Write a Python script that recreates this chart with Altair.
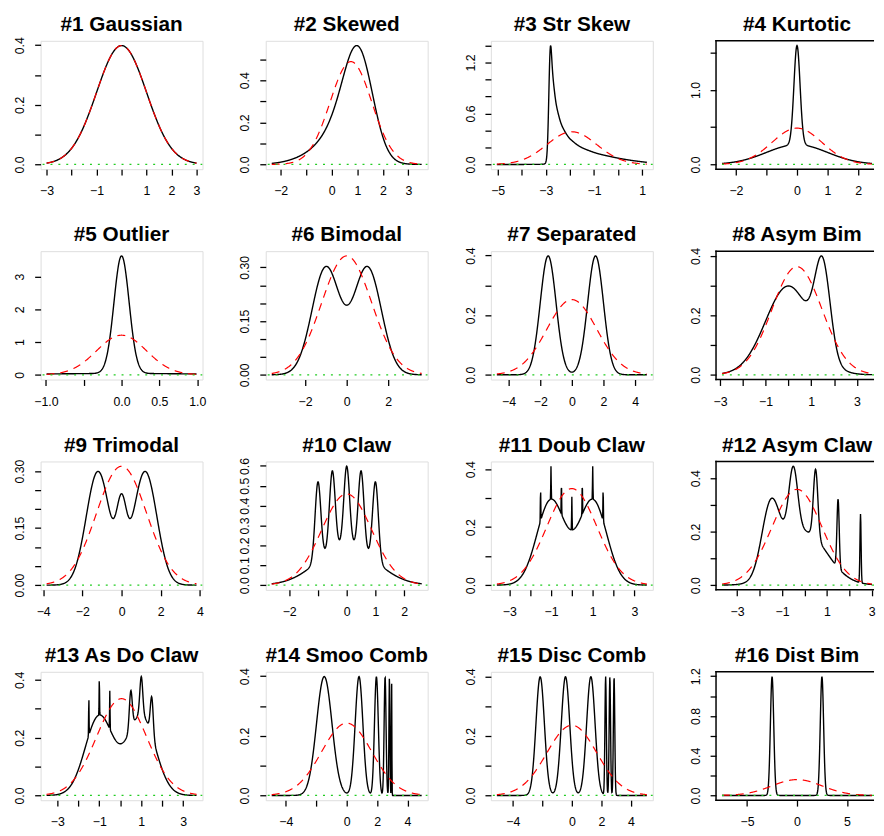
import altair as alt
import numpy as np
import pandas as pd

# ---- Marron-Wand normal mixtures: name, weights, means, sds ----
names = ["#1 Gaussian", "#2 Skewed", "#3 Str Skew", "#4 Kurtotic",
         "#5 Outlier", "#6 Bimodal", "#7 Separated", "#8 Asym Bim",
         "#9 Trimodal", "#10 Claw", "#11 Doub Claw", "#12 Asym Claw",
         "#13 As Do Claw", "#14 Smoo Comb", "#15 Disc Comb", "#16 Dist Bim"]

weights = [
    [1.0],
    [0.2, 0.2, 0.6],
    [0.125] * 8,
    [2 / 3, 1 / 3],
    [0.1, 0.9],
    [0.5, 0.5],
    [0.5, 0.5],
    [0.75, 0.25],
    [0.45, 0.45, 0.1],
    [0.5, 0.1, 0.1, 0.1, 0.1, 0.1],
    [0.49, 0.49] + [1 / 350] * 7,
    [0.5, 8 / 31, 4 / 31, 2 / 31, 1 / 31, 0.5 / 31],
    [0.46, 0.46, 1 / 300, 1 / 300, 1 / 300, 7 / 300, 7 / 300, 7 / 300],
    [32 / 63, 16 / 63, 8 / 63, 4 / 63, 2 / 63, 1 / 63],
    [2 / 7, 2 / 7, 2 / 7, 1 / 21, 1 / 21, 1 / 21],
    [0.5, 0.5],
]
means = [
    [0.0],
    [0.0, 0.5, 13 / 12],
    [0.0, -1.0, -1.6667, -2.1111, -2.4074, -2.6049, -2.7366, -2.8244],
    [0.0, 0.0],
    [0.0, 0.0],
    [-1.0, 1.0],
    [-1.5, 1.5],
    [0.0, 1.5],
    [-1.2, 1.2, 0.0],
    [0.0, -1.0, -0.5, 0.0, 0.5, 1.0],
    [-1.0, 1.0, -1.5, -1.0, -0.5, 0.0, 0.5, 1.0, 1.5],
    [0.0, -1.5, -0.5, 0.5, 1.5, 2.5],
    [-1.0, 1.0, -0.5, -1.0, -1.5, 0.5, 1.0, 1.5],
    [-1.4762, 0.8095, 1.9524, 2.5238, 2.8095, 2.9524],
    [-2.1429, -0.4286, 1.2857, 2.2857, 2.5714, 2.8571],
    [-2.5, 2.5],
]
sds = [
    [1.0],
    [1.0, 2 / 3, 5 / 9],
    [1.0, 0.6667, 0.4444, 0.2963, 0.1975, 0.1317, 0.0878, 0.0585],
    [1.0, 0.1],
    [1.0, 0.1],
    [2 / 3, 2 / 3],
    [0.5, 0.5],
    [1.0, 1 / 3],
    [0.6, 0.6, 0.25],
    [1.0, 0.1, 0.1, 0.1, 0.1, 0.1],
    [2 / 3, 2 / 3] + [0.01] * 7,
    [1.0, 0.4, 0.2, 0.1, 0.05, 0.025],
    [2 / 3, 2 / 3, 0.01, 0.01, 0.01, 0.07, 0.07, 0.07],
    [0.5079, 0.2540, 0.1270, 0.0635, 0.0317, 0.0159],
    [0.2857, 0.2857, 0.2857, 0.0476, 0.0476, 0.0476],
    [1 / 6, 1 / 6],
]
# x range of each curve (None = mean +/- 3 sd)
x_limits = [None, (-2.35, 3.52), None, None, None, None, None, None,
            None, None, None, None, None, None, None, None]

# ---- axis ticks and the labels that are printed ('' = unlabelled tick) ----
x_ticks = [
    [-3, -2, -1, 0, 1, 2, 3], [-2, -1, 0, 1, 2, 3], [-5, -4, -3, -2, -1, 0, 1], [-2, -1, 0, 1, 2],
    [-1, -0.5, 0, 0.5, 1], [-2, 0, 2], [-4, -2, 0, 2, 4], [-3, -2, -1, 0, 1, 2, 3],
    [-4, -2, 0, 2, 4], [-2, -1, 0, 1, 2], [-3, -2, -1, 0, 1, 2, 3], [-3, -2, -1, 0, 1, 2, 3],
    [-3, -2, -1, 0, 1, 2, 3], [-4, -2, 0, 2, 4], [-4, -2, 0, 2, 4], [-5, 0, 5],
]
x_labels = [
    ["−3", "", "−1", "", "1", "2", "3"], ["−2", "", "0", "1", "2", "3"],
    ["−5", "", "−3", "", "−1", "", "1"], ["−2", "", "0", "1", "2"],
    ["−1.0", "", "0.0", "0.5", "1.0"], ["−2", "0", "2"], ["−4", "−2", "0", "2", "4"],
    ["−3", "", "−1", "", "1", "", "3"],
    ["−4", "−2", "0", "2", "4"], ["−2", "", "0", "1", "2"], ["−3", "", "−1", "", "1", "", "3"],
    ["−3", "", "−1", "", "1", "", "3"],
    ["−3", "", "−1", "", "1", "", "3"], ["−4", "", "0", "2", "4"], ["−4", "", "0", "2", "4"],
    ["−5", "0", "5"],
]
y_ticks = [
    [0, 0.1, 0.2, 0.3, 0.4], [0, 0.1, 0.2, 0.3, 0.4, 0.5], [0, 0.2, 0.4, 0.6, 0.8, 1.0, 1.2, 1.4], [0, 0.5, 1.0, 1.5],
    [0, 1, 2, 3], [0, 0.05, 0.1, 0.15, 0.2, 0.25, 0.3], [0, 0.1, 0.2, 0.3, 0.4], [0, 0.1, 0.2, 0.3, 0.4],
    [0, 0.05, 0.1, 0.15, 0.2, 0.25, 0.3], [0, 0.1, 0.2, 0.3, 0.4, 0.5, 0.6], [0, 0.1, 0.2, 0.3, 0.4], [0, 0.1, 0.2, 0.3, 0.4],
    [0, 0.1, 0.2, 0.3, 0.4], [0, 0.1, 0.2, 0.3, 0.4], [0, 0.1, 0.2, 0.3, 0.4], [0, 0.2, 0.4, 0.6, 0.8, 1.0, 1.2],
]
y_labels = [
    ["0.0", "", "0.2", "", "0.4"], ["0.0", "", "0.2", "", "0.4", ""],
    ["0.0", "", "", "0.6", "", "", "1.2", ""], ["0.0", "", "1.0", ""],
    ["0", "1", "2", "3"], ["0.00", "", "", "0.15", "", "", "0.30"],
    ["0.0", "", "0.2", "", "0.4"], ["0.0", "", "0.2", "", "0.4"],
    ["0.00", "", "", "0.15", "", "", "0.30"], ["0.0", "0.1", "0.2", "0.3", "0.4", "0.5", "0.6"],
    ["0.0", "", "0.2", "", "0.4"], ["0.0", "", "0.2", "", "0.4"],
    ["0.0", "", "0.2", "", "0.4"], ["0.0", "", "0.2", "", "0.4"], ["0.0", "", "0.2", "", "0.4"],
    ["0.0", "", "0.4", "", "0.8", "", "1.2"],
]

FONT = "Liberation Sans"
W, H = 164, 130          # full panel plot area
W_LAST = 160             # the right-hand column is cut off by the picture's edge
LABEL_SIZE = 12.5
BOX = 1.5


def npdf(x, m, s):
    return np.exp(-0.5 * ((x - m) / s) ** 2) / (s * np.sqrt(2 * np.pi))


def label_expr(vals, labs):
    parts = [f"abs(datum.value - ({v})) < 1e-9 ? '{l}' : " for v, l in zip(vals, labs) if l]
    return "".join(parts) + "''"


one = pd.DataFrame({"a": [0]})

panels = []
for i, name in enumerate(names):
    last_col = (i % 4 == 3)
    pw = W_LAST if last_col else W
    w = np.array(weights[i]); m = np.array(means[i]); s = np.array(sds[i])
    mu = float(np.sum(w * m) / np.sum(w))
    var = float(np.sum(w * (s ** 2 + m ** 2)) / np.sum(w) - mu ** 2)
    sd = np.sqrt(var)
    lo, hi = x_limits[i] if x_limits[i] else (mu - 3 * sd, mu + 3 * sd)
    x = np.linspace(lo, hi, 511)
    y = sum(wi * npdf(x, mi, si) for wi, mi, si in zip(w, m, s))
    yn = npdf(x, mu, sd)
    df = pd.concat([
        pd.DataFrame({"x": x, "v": y, "k": "mix"}),
        pd.DataFrame({"x": x, "v": yn, "k": "norm"}),
    ])
    xr = hi - lo
    xd0, xd1 = lo - 0.04 * xr, hi + 0.04 * xr
    xdom = [xd0, xd0 + (xd1 - xd0) * pw / W]       # visible part of the panel
    ymax = float(max(y.max(), yn.max()))
    ydom = [-0.04 * ymax, 1.04 * ymax]

    xt = [(v, l) for v, l in zip(x_ticks[i], x_labels[i]) if xdom[0] <= v <= xdom[1]]
    yt = [(v, l) for v, l in zip(y_ticks[i], y_labels[i]) if ydom[0] <= v <= ydom[1]]

    xaxis = alt.Axis(values=[v for v, _ in xt], labelExpr=label_expr(*zip(*xt)),
                     title=None, grid=False, domain=False, tickSize=6, tickWidth=1.3,
                     tickColor="black", labelFont=FONT, labelFontSize=LABEL_SIZE,
                     labelColor="black", labelPadding=10, labelOverlap=False, labelFlush=False)
    yaxis = alt.Axis(values=[v for v, _ in yt], labelExpr=label_expr(*zip(*yt)),
                     title=None, grid=False, domain=False, tickSize=6, tickWidth=1.3,
                     tickColor="black", labelFont=FONT, labelFontSize=LABEL_SIZE,
                     labelColor="black", labelAngle=270, labelAlign="center",
                     labelBaseline="alphabetic", labelPadding=11,
                     labelOverlap=False, labelFlush=False)
    xs = alt.Scale(domain=xdom, nice=False, zero=False)
    ys = alt.Scale(domain=ydom, nice=False, zero=False)

    base = alt.Chart(df)
    mix = base.transform_filter(alt.datum.k == "mix").mark_line(
        color="black", strokeWidth=1.4, clip=True).encode(
        x=alt.X("x:Q", scale=xs, axis=xaxis), y=alt.Y("v:Q", scale=ys, axis=yaxis))
    nrm = base.transform_filter(alt.datum.k == "norm").mark_line(
        color="#ff0000", strokeWidth=1.2, strokeDash=[8, 6], clip=True).encode(
        x=alt.X("x:Q", scale=xs, axis=xaxis), y=alt.Y("v:Q", scale=ys, axis=yaxis))
    h0 = alt.Chart(pd.DataFrame({"v": [0.0]})).mark_rule(
        color="#22cc22", strokeWidth=1.3, strokeDash=[2, 6], clip=True).encode(
        y=alt.Y("v:Q", scale=ys, axis=yaxis))
    ttl = alt.Chart(pd.DataFrame({"t": [name]})).mark_text(
        font=FONT, fontSize=21, fontWeight="bold", color="black",
        align="center", baseline="alphabetic").encode(
        x=alt.value(W / 2), y=alt.value(-10), text="t:N")
    layers = [mix, nrm, h0, ttl]
    props = dict(width=pw, height=H)
    if last_col:
        # box without its right side (that side lies beyond the picture's edge)
        top = alt.Chart(one).mark_rule(color="black", strokeWidth=BOX).encode(
            x=alt.value(-BOX / 2), x2=alt.value(pw), y=alt.value(0))
        bot = alt.Chart(one).mark_rule(color="black", strokeWidth=BOX).encode(
            x=alt.value(-BOX / 2), x2=alt.value(pw), y=alt.value(H))
        left = alt.Chart(one).mark_rule(color="black", strokeWidth=BOX).encode(
            x=alt.value(0), y=alt.value(-BOX / 2), y2=alt.value(H + BOX / 2))
        layers += [top, bot, left]
        props["view"] = alt.ViewBackground(stroke=None)
    panels.append(alt.layer(*layers).properties(**props))

chart = alt.concat(*panels, columns=4, spacing={"row": 83, "column": 64},
                   bounds="flush").properties(
    padding={"left": 5, "top": 0, "right": 0, "bottom": 0}
).configure_view(stroke="black", strokeWidth=BOX).configure(background="white")

chart.save("out.html", embed_options={"renderer": "svg", "actions": False})
